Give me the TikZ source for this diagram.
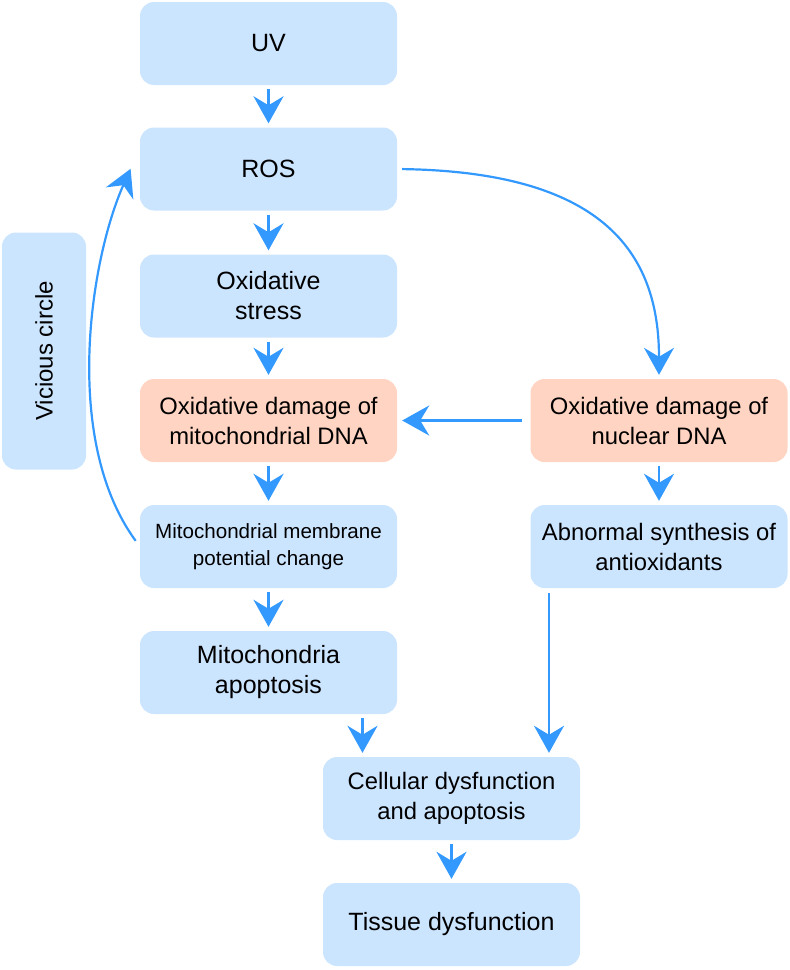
\documentclass[tikz,border=0pt]{standalone}
\usepackage{fontspec}
\setmainfont{Liberation Sans}
\usetikzlibrary{arrows.meta}
\definecolor{boxblue}{HTML}{CCE5FF}
\definecolor{boxorange}{HTML}{FFD4C2}
\definecolor{arrowblue}{HTML}{3399FF}
\begin{document}
\begin{tikzpicture}[x=1pt,y=-1pt,
  box/.style={fill=boxblue, rounded corners=14pt, minimum width=257pt, minimum height=83pt,
    align=center, inner sep=2pt, font=\fontsize{25}{30}\selectfont},
  obox/.style={box, fill=boxorange, font=\fontsize{23.8}{30}\selectfont},
  arr/.style={draw=arrowblue, line width=2.8pt, -{Stealth[length=27pt,width=30pt,inset=9pt]}},
  carr/.style={draw=arrowblue, line width=2.2pt, -{Stealth[length=27pt,width=30pt,inset=9pt]}}]
\useasboundingbox (0,0) rectangle (790,970);
\node[box] (uv) at (268.5,43.5) {UV};
\node[box] (ros) at (268.5,169) {ROS};
\node[box] (ox) at (268.5,296) {Oxidative\\stress};
\node[obox] (mdna) at (268.5,420.5) {Oxidative damage of\\mitochondrial DNA};
\node[box, font=\fontsize{20.6}{27}\selectfont] (mem) at (268.5,546.5) {Mitochondrial membrane\\potential change};
\node[box] (apop) at (268.5,672.5) {Mitochondria\\apoptosis};
\node[obox] (ndna) at (659,420.5) {Oxidative damage of\\nuclear DNA};
\node[box, font=\fontsize{23.8}{30}\selectfont] (abn) at (659,546.5) {Abnormal synthesis of\\antioxidants};
\node[box, font=\fontsize{23.8}{30}\selectfont] (cell) at (451.5,798.5) {Cellular dysfunction\\and apoptosis};
\node[box] (tis) at (451.5,924.5) {Tissue dysfunction};
\node[box, minimum width=84pt, minimum height=237pt] (vc) at (44,351) {};
\node[rotate=90, font=\fontsize{24}{30}\selectfont] (vct) at (vc.center) {Vicious circle};

\draw[arr, shorten <=4pt, shorten >=4pt] (uv) -- (ros);
\draw[arr, shorten <=4pt, shorten >=4pt] (ros) -- (ox);
\draw[arr, shorten <=4pt, shorten >=4pt] (ox) -- (mdna);
\draw[arr, shorten <=4pt, shorten >=4pt] (mdna) -- (mem);
\draw[arr, shorten <=4pt, shorten >=4pt] (mem) -- (apop);
\draw[arr, shorten <=4pt, shorten >=4pt] (ndna) -- (abn);
\draw[arr, shorten <=4pt, shorten >=4pt] (cell) -- (tis);
\draw[arr, shorten <=8pt, shorten >=5pt] (ndna.west) -- (mdna.east);
\draw[arr, shorten <=5pt, shorten >=4pt] ([xshift=-110pt]abn.south) -- ([xshift=-110pt]abn.south |- cell.north);
\draw[arr, shorten <=4pt, shorten >=4pt] ([xshift=-89pt]cell.north |- apop.south) -- ([xshift=-89pt]cell.north);
\draw[carr, shorten <=5pt, shorten >=4pt] (ros.east) .. controls (600,172) and (659,250) .. (ndna.north);
\draw[carr, shorten <=7pt, shorten >=3pt] (mem.west) .. controls (62,440) and (90,260) .. ([xshift=-8pt,yshift=3pt]ros.west);
\end{tikzpicture}
\end{document}
